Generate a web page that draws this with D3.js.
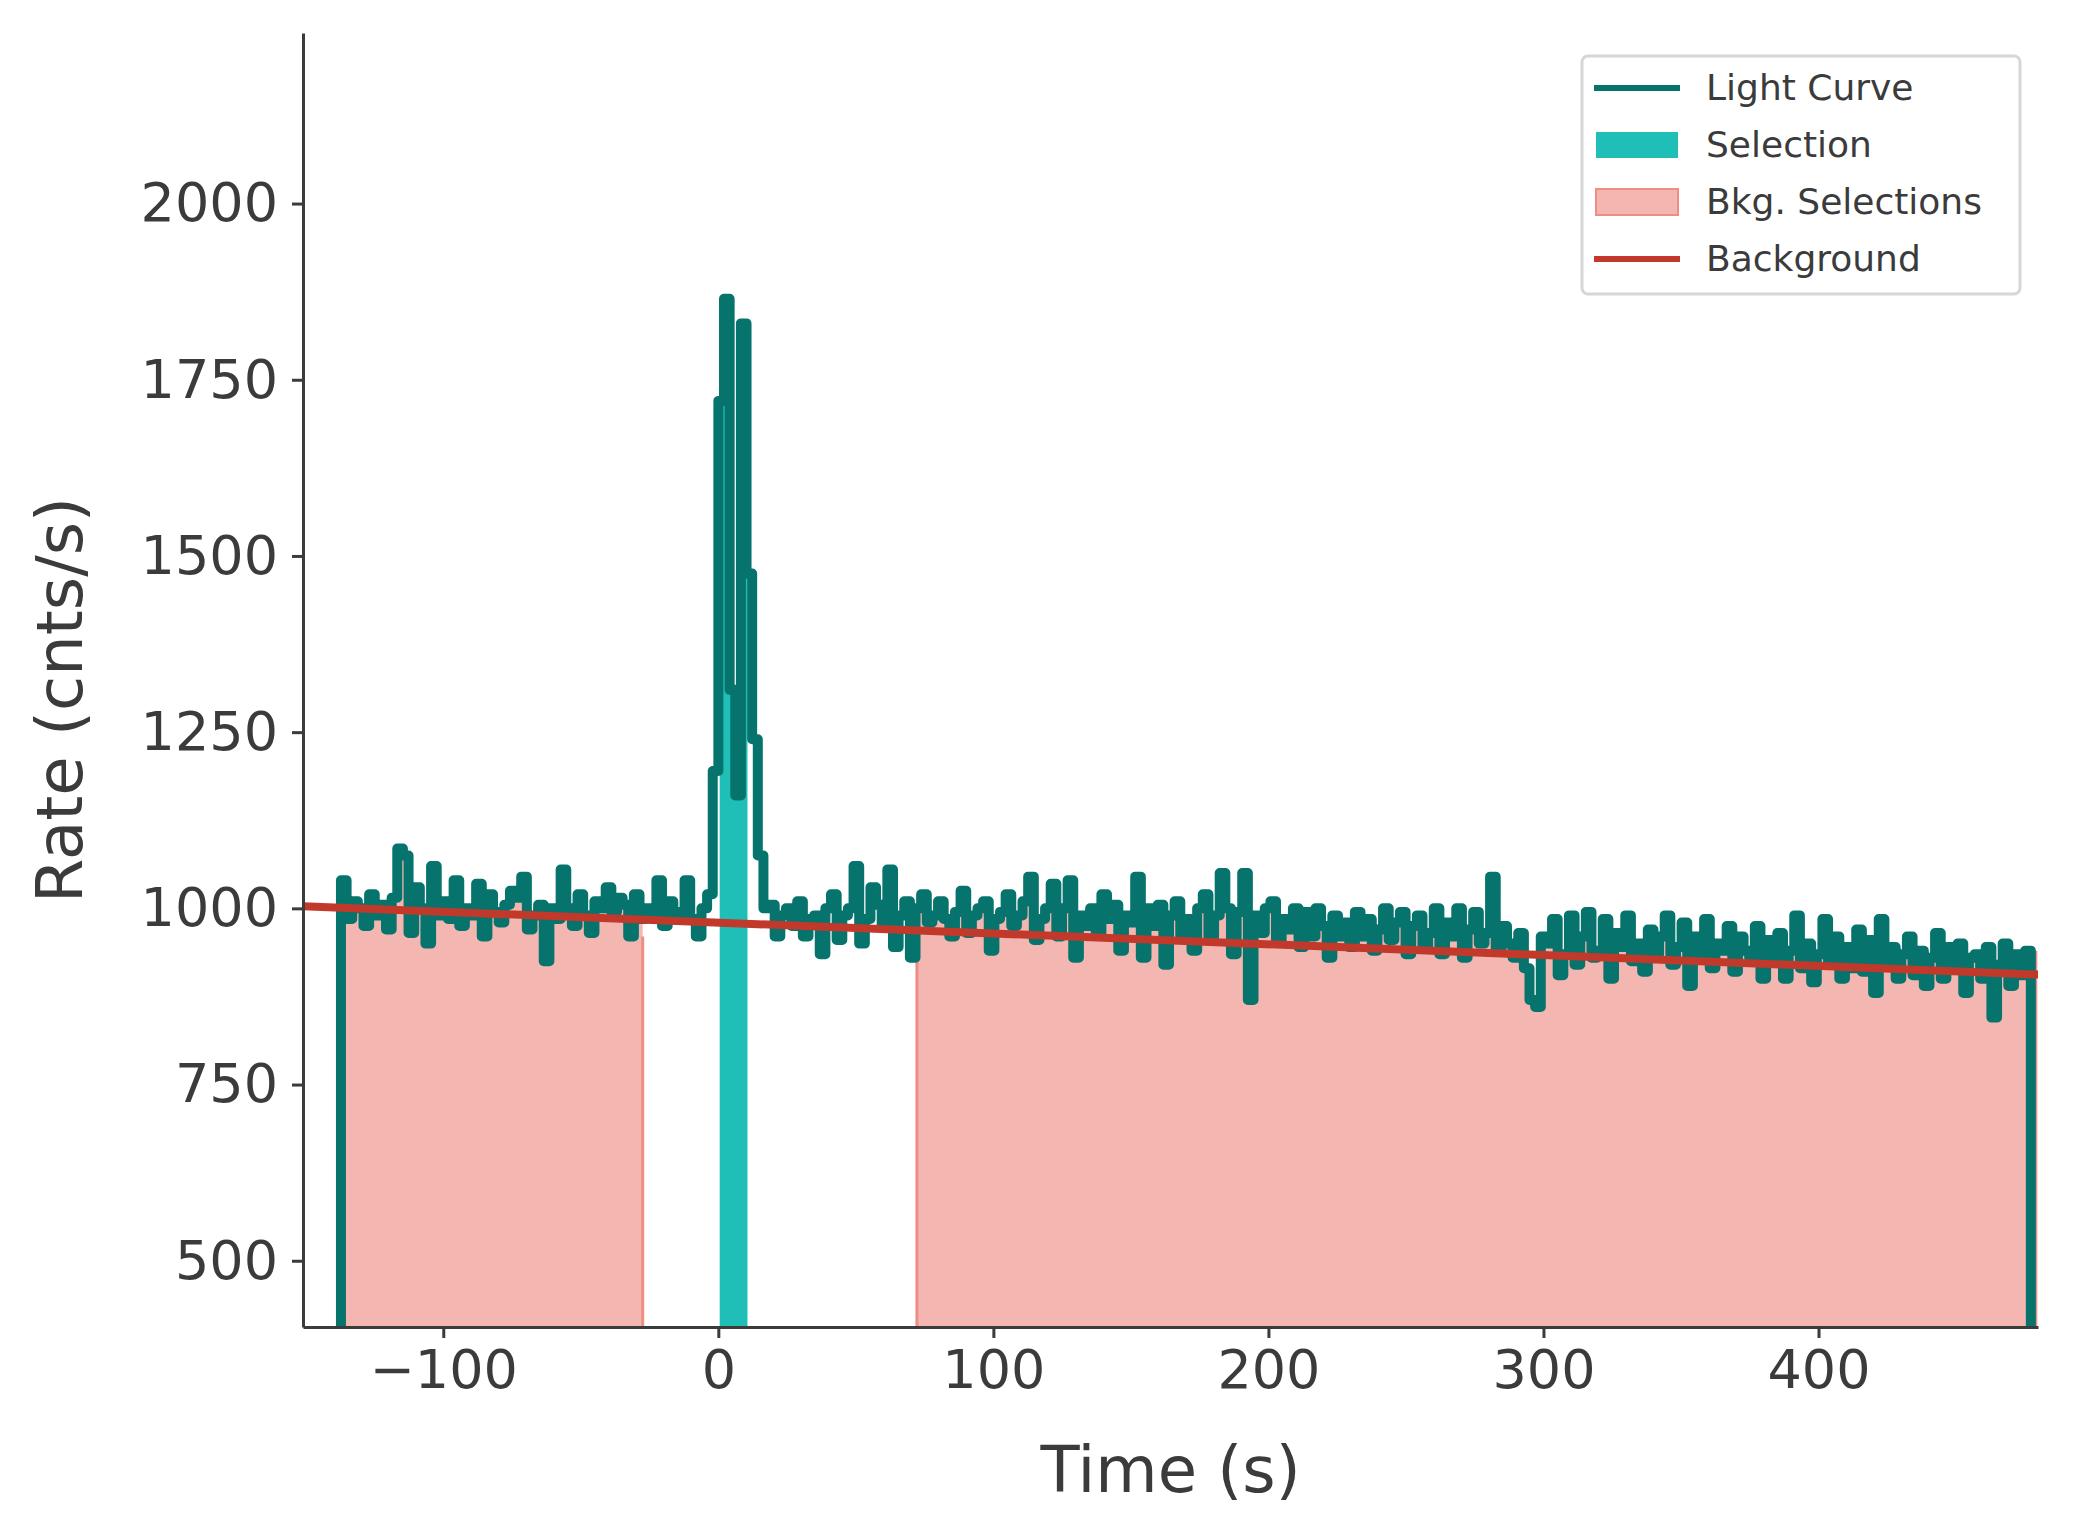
<!DOCTYPE html>
<html><head><meta charset="utf-8">
<script src="https://cdn.jsdelivr.net/npm/d3@7"></script>
<style>body{margin:0;background:#fff}text{font-family:"DejaVu Sans",sans-serif;fill:#3b3b3b}</style>
</head><body><svg id="chart" width="2074" height="1540"></svg>
<script>
// light curve: 2.048 s bins starting at t0
const t0 = -137.2, binSize = 2.048;
const rates = [
  1040,985,1010,1000,975,1020,990,1005,970,1015,
  1085,1075,965,1030,1000,950,1060,990,1010,985,
  1040,975,1000,990,1035,960,1020,995,980,1005,
  1025,1015,1045,970,990,1005,925,1000,985,1055,
  1000,975,1020,990,965,1010,1000,1030,995,1015,
  1005,960,1020,985,1000,990,1040,975,1010,995,
  990,1040,985,960,1000,1020,1195,1720,1865,1310,
  1160,1830,1475,1240,1075,1000,1005,960,990,1000,
  975,1010,960,985,990,935,1000,1020,955,990,
  1000,1060,950,985,1030,1005,975,1055,945,990,
  1010,930,1000,1020,980,990,1010,985,960,995,
  1025,965,990,1000,1010,940,985,995,1020,975,
  990,1010,1045,955,985,1000,1035,960,1000,1040,
  930,990,975,1000,965,1020,985,1005,940,990,
  980,1045,930,1000,975,1005,920,990,1010,960,
  985,940,1000,1020,960,990,1050,1000,935,995,
  1050,870,990,965,1000,1010,955,985,970,1000,
  945,995,960,1000,975,930,990,960,980,945,
  995,960,985,940,970,1000,955,980,995,935,
  975,990,945,965,1000,935,980,960,1000,930,
  970,995,950,965,1045,940,975,950,930,965,
  915,870,860,960,950,985,905,935,990,920,
  960,995,930,940,985,900,965,945,990,925,
  950,910,970,935,960,990,920,945,980,890,
  960,930,985,915,950,940,975,910,960,940,
  930,975,900,955,925,965,900,940,990,915,
  950,895,935,985,920,960,900,945,915,970,
  910,955,880,985,925,945,900,935,960,905,
  940,890,930,965,900,945,915,950,880,930,
  935,900,945,845,920,950,890,935,905,940
];
const selection = [0.5, 10.6];
const bkgSelections = [[-137.2, -27.5], [72.2, 479]];
const background = [[-151, 1003], [480, 906]];
const xTicks = [-100, 0, 100, 200, 300, 400];
const yTicks = [500, 750, 1000, 1250, 1500, 1750, 2000];

const svg = d3.select("#chart");
const m = {l: 303, r: 2038, t: 33, b: 1327};
const x = d3.scaleLinear().domain([-151, 479.8]).range([m.l, m.r]);
const y = d3.scaleLinear().domain([406, 2242]).range([m.b, m.t]);

const pts = rates.map((v, i) => ({t: t0 + i * binSize, v}));
const tEnd = t0 + rates.length * binSize;
const stepPts = pts.concat([{t: tEnd, v: rates[rates.length - 1]}]);
const valueAt = (t) => rates[Math.max(0, Math.min(rates.length - 1, Math.floor((t - t0) / binSize)))];

svg.append("clipPath").attr("id", "clip").append("rect")
  .attr("x", m.l).attr("y", m.t).attr("width", m.r - m.l).attr("height", m.b - m.t);
const g = svg.append("g").attr("clip-path", "url(#clip)");

const area = d3.area().curve(d3.curveStepAfter)
  .x((d) => x(d.t)).y0(y(406)).y1((d) => y(d.v));

function fillRange([a, b], fill, stroke) {
  g.append("clipPath").attr("id", "r" + a).append("rect")
    .attr("x", x(a)).attr("y", 0).attr("width", x(b) - x(a)).attr("height", 1540);
  g.append("path").datum(stepPts).attr("d", area)
    .attr("clip-path", `url(#r${a})`).attr("fill", fill);
  if (stroke) {
    [a, b].forEach((e) => g.append("line").attr("x1", x(e)).attr("x2", x(e))
      .attr("y1", y(406)).attr("y2", y(Math.min(valueAt(e), 960)))
      .attr("stroke", stroke).attr("stroke-width", 3));
  }
}
bkgSelections.forEach((r) => fillRange(r, "#f4b6b0", "#ee8d84"));
fillRange(selection, "#1fbfb8");

const line = d3.line().curve(d3.curveStepAfter).x((d) => x(d.t)).y((d) => y(d.v));
const lc = [{t: t0, v: 300}].concat(stepPts, [{t: tEnd, v: 300}]);
g.append("path").datum(lc).attr("d", line).attr("fill", "none")
  .attr("stroke", "#06736c").attr("stroke-width", 10)
  .attr("stroke-linejoin", "round").attr("stroke-linecap", "round");

g.append("line").attr("x1", x(background[0][0])).attr("y1", y(background[0][1]))
  .attr("x2", x(background[1][0])).attr("y2", y(background[1][1]))
  .attr("stroke", "#c0392b").attr("stroke-width", 8);

// axes
const xa = svg.append("g").attr("transform", `translate(0,${m.b})`)
  .call(d3.axisBottom(x).tickValues(xTicks).tickSize(11).tickSizeOuter(0).tickPadding(12)
    .tickFormat((d) => d < 0 ? "\u2212" + Math.abs(d) : d));
const ya = svg.append("g").attr("transform", `translate(${m.l},0)`)
  .call(d3.axisLeft(y).tickValues(yTicks).tickSize(11).tickSizeOuter(0).tickPadding(14)
    .tickFormat(d3.format("d")));
[xa, ya].forEach((a) => {
  a.select(".domain").attr("stroke", "#3b3b3b").attr("stroke-width", 3);
  a.selectAll(".tick line").attr("stroke", "#3b3b3b").attr("stroke-width", 3);
  a.selectAll("text").attr("font-size", 54).attr("font-family", "DejaVu Sans").attr("fill", "#3b3b3b");
});
svg.append("text").attr("x", (m.l + m.r) / 2).attr("y", 1492)
  .attr("text-anchor", "middle").attr("font-size", 64).text("Time (s)");
svg.append("text").attr("transform", `translate(82,${(m.t + m.b) / 2 + 20}) rotate(-90)`)
  .attr("text-anchor", "middle").attr("font-size", 64).text("Rate (cnts/s)");

// legend
const lg = svg.append("g");
lg.append("rect").attr("x", 1582).attr("y", 56).attr("width", 438).attr("height", 238)
  .attr("rx", 6).attr("fill", "#fff").attr("stroke", "#d6d6d6").attr("stroke-width", 3);
const items = [
  {label: "Light Curve", kind: "line", color: "#06736c"},
  {label: "Selection", kind: "patch", color: "#1fbfb8"},
  {label: "Bkg. Selections", kind: "patch", color: "#f4b6b0", stroke: "#ee8d84"},
  {label: "Background", kind: "line", color: "#c0392b"},
];
items.forEach((d, i) => {
  const cy = 88 + i * 57;
  if (d.kind === "line") {
    lg.append("line").attr("x1", 1594).attr("x2", 1680).attr("y1", cy).attr("y2", cy)
      .attr("stroke", d.color).attr("stroke-width", 6);
  } else {
    lg.append("rect").attr("x", 1596).attr("y", cy - 13).attr("width", 82).attr("height", 26)
      .attr("fill", d.color).attr("stroke", d.stroke || "none").attr("stroke-width", 2);
  }
  lg.append("text").attr("x", 1706).attr("y", cy + 12).attr("font-size", 36).text(d.label);
});
</script></body></html>
